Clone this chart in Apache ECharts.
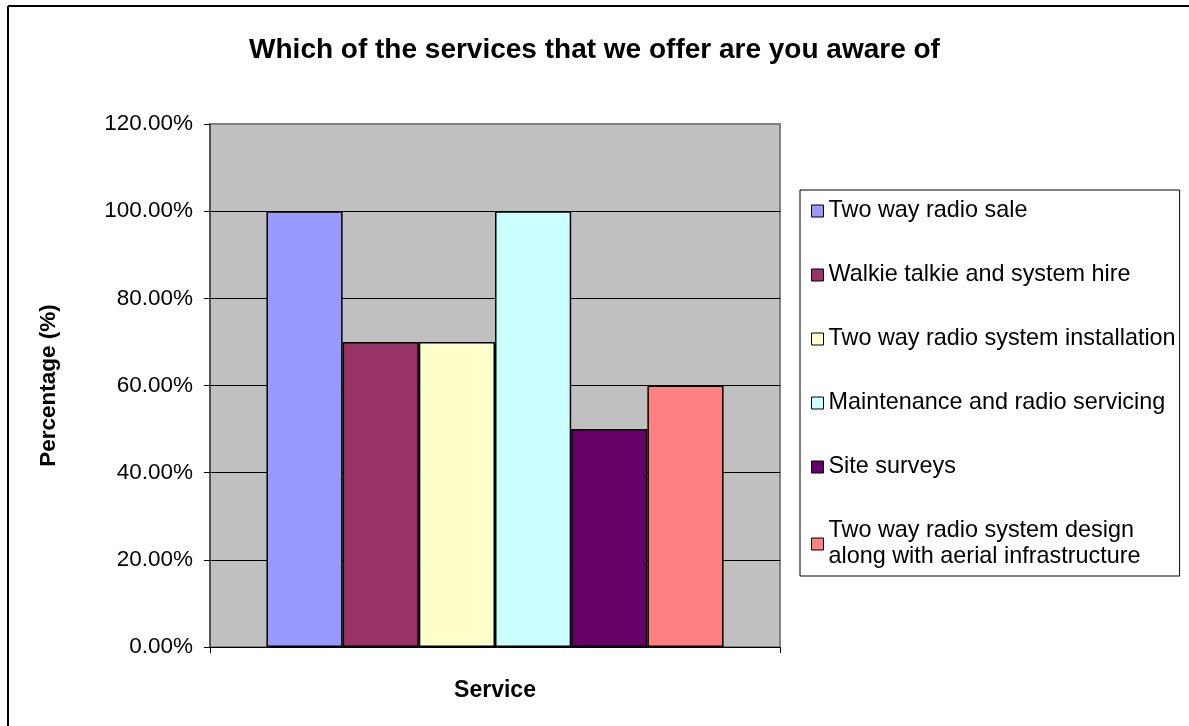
<!DOCTYPE html>
<html>
<head>
<meta charset="utf-8">
<script src="https://cdn.jsdelivr.net/npm/echarts@6/dist/echarts.min.js"></script>
<style>
  html, body { margin: 0; padding: 0; background: #fff; }
  #chart { width: 1189px; height: 726px; }
</style>
</head>
<body>
<div id="chart"></div>
<script>
// survey answers, one bar per service
const categories = ['Service']
const serviceNames = [
  'Two way radio sale',
  'Walkie talkie and system hire',
  'Two way radio system installation',
  'Maintenance and radio servicing',
  'Site surveys',
  'Two way radio system design along with aerial infrastructure'
]
const serviceValues = [1.0, 0.7, 0.7, 1.0, 0.5, 0.6]
const serviceColors = ['#9999FF', '#993366', '#FFFFCC', '#CCFFFF', '#660066', '#FF8080']
const yTicks = [0, 0.2, 0.4, 0.6, 0.8, 1.0, 1.2]

const chart = echarts.init(document.getElementById('chart'))

const font = 'Liberation Sans, Arial, sans-serif'

const series = serviceNames.map((name, i) => ({
  name: name,
  type: 'bar',
  data: [serviceValues[i]],
  barGap: '0%',
  barCategoryGap: '19.8%',
  itemStyle: { color: serviceColors[i], borderColor: '#000', borderWidth: 1.5 },
  emphasis: { disabled: true }
}))

chart.setOption({
  animation: false,
  backgroundColor: '#fff',
  textStyle: { fontFamily: font },
  title: {
    text: 'Which of the services that we offer are you aware of',
    left: 'center',
    top: 31,
    textStyle: { fontSize: 28, fontWeight: 'bold', color: '#000', fontFamily: font }
  },
  grid: { left: 210, top: 124, width: 570, height: 523, containLabel: false },
  graphic: [
    { type: 'line', shape: { x1: 8, y1: 6, x2: 1189, y2: 6 }, style: { stroke: '#000', lineWidth: 2 } },
    { type: 'line', shape: { x1: 8, y1: 6, x2: 8, y2: 726 }, style: { stroke: '#000', lineWidth: 2 } },
    { type: 'rect', z: -1, shape: { x: 210, y: 124, width: 570, height: 523 },
      style: { fill: '#C0C0C0', stroke: '#808080', lineWidth: 2 } }
  ],
  legend: {
    orient: 'vertical',
    left: 800,
    top: 190,
    padding: [8, 4, 6, 11],
    backgroundColor: '#fff',
    borderColor: '#000',
    borderWidth: 1,
    icon: 'rect',
    itemWidth: 12,
    itemHeight: 12,
    itemGap: 38,
    selectedMode: false,
    itemStyle: { borderColor: '#000', borderWidth: 1 },
    formatter: name => name === serviceNames[5]
      ? 'Two way radio system design\nalong with aerial infrastructure'
      : name,
    textStyle: { fontSize: 23.4, lineHeight: 26, color: '#000', fontFamily: font },
    data: serviceNames
  },
  xAxis: {
    type: 'category',
    data: categories,
    name: 'Service',
    nameLocation: 'middle',
    nameGap: 32,
    nameTextStyle: { fontSize: 23, fontWeight: 'bold', color: '#000' },
    axisLine: { lineStyle: { color: '#000', width: 1 } },
    axisTick: { show: true, alignWithLabel: false, length: 6, lineStyle: { color: '#000' } },
    axisLabel: { show: false }
  },
  yAxis: {
    type: 'value',
    min: yTicks[0],
    max: yTicks[yTicks.length - 1],
    interval: 0.2,
    name: 'Percentage (%)',
    nameLocation: 'middle',
    nameGap: 150,
    nameTextStyle: { fontSize: 22.5, fontWeight: 'bold', color: '#000' },
    axisLine: { show: true, lineStyle: { color: '#444', width: 1.5 } },
    axisTick: { show: true, length: 6, lineStyle: { color: '#000' } },
    axisLabel: {
      fontSize: 22.5,
      color: '#000',
      margin: 17,
      formatter: v => (v * 100).toFixed(2) + '%'
    },
    splitLine: {
      show: true,
      lineStyle: { color: ['#000', '#000', '#000', '#000', '#000', '#000', '#808080'], width: 1 }
    }
  },
  series: series
})
</script>
</body>
</html>
